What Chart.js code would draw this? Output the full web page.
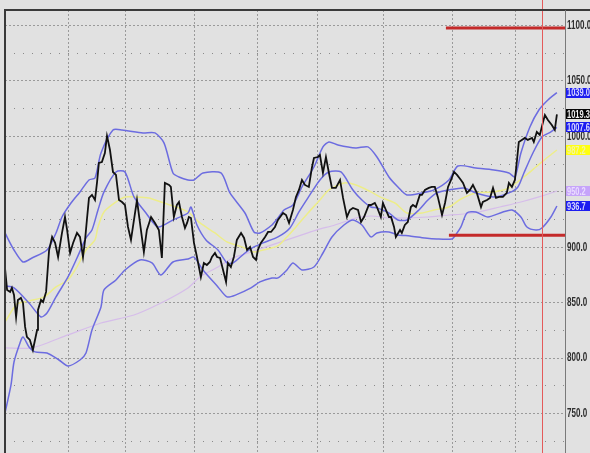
<!DOCTYPE html>
<html><head><meta charset="utf-8">
<script src="https://cdn.jsdelivr.net/npm/chart.js@4.4.0/dist/chart.umd.min.js"></script>
<style>html,body{margin:0;padding:0;background:#e1e1e1;overflow:hidden}
#wrap{width:590px;height:453px;position:relative}</style>
</head><body><div id="wrap"><canvas id="c" width="590" height="453"></canvas></div>
<script>
// ---- data (x = trading day index, y = price) ----
const priceDays = [0,0.7,1.7,2.3,3,3.7,4.3,5.3,6,6.7,7.3,8.3,9.3,10.7,11,12,12.7,13.7,14.7,15.7,16.7,17.7,19,20,20.7,21.7,22.7,24,25,26,26.7,27.3,28,29,30,
30.7,31.3,32.3,33.3,34,34.3,35,36,37,38,39,40,41,42,43,44,45,46.3,47.3,48.7,50,51.3,52.3,53.3,54.7,55.3,56.3,57.3,58,59,60,
60.7,61.3,62,63,64,65.3,66.3,67.3,68.3,69,70,70.7,71.7,72.7,73.7,74.3,75.3,76.3,77.3,78.7,79.7,80.7,81.7,82.7,83.7,84.3,85.3,86.7,87.7,88.7,90,91,
92.7,93.7,94.7,96,97,98,99,100,101.3,102.3,103,104.3,105,106,107,108,109,110.3,111.7,112.7,114,115,116,117.7,118.7,119.7,121.3,122,
123.3,124,125.3,126,127,128,128.7,129.7,130.3,131.7,132.3,133.3,134.3,135.3,136,137,138.3,139,140,141.3,142.3,143.3,144.3,145.7,146.7,147.7,148.7,149.7,150.7,152,
152.7,154,155,156,157.3,158.7,159.3,160.7,161.7,162.7,163.7,164.7,166,167.3,168,169,170,170.7,171.3,172.3,173.3,174.3,175.7,176.3,177.3,178.3,179.3,180,181,182.3,183.3,184];
const priceValues = [880.8,861.0,859.2,862.8,856.5,836.6,851.9,853.8,849.2,827.6,818.6,815.9,806.8,824.9,842.9,851.9,850.1,859.2,897.0,908.8,903.4,890.7,912.4,926.8,915.1,894.3,903.4,912.4,908.8,890.7,906.1,924.1,944.0,946.7,942.1,
958.4,975.5,976.4,984.5,999.9,996.3,987.2,967.4,964.7,942.1,940.3,937.6,917.8,906.1,924.1,942.1,921.4,895.2,915.1,926.8,921.4,915.1,889.8,957.5,955.7,953.9,926.8,937.6,940.3,926.8,916.9,
921.4,926.8,925.9,903.4,890.7,872.7,885.3,883.5,886.2,890.7,894.3,890.7,889.8,879.0,868.2,885.3,881.7,890.7,906.1,912.4,907.9,897.0,899.8,890.7,888.0,897.0,903.4,908.8,913.3,913.3,917.8,924.1,
930.4,928.6,921.4,933.1,944.9,951.2,960.2,955.7,953.9,971.0,980.0,980.9,982.7,966.5,980.9,966.5,953.0,953.0,960.2,944.0,926.8,933.1,934.9,933.1,922.3,926.8,937.6,937.6,
939.4,935.8,926.8,939.4,933.1,926.8,926.8,917.8,908.8,915.1,912.4,919.6,922.3,935.8,937.6,935.8,946.7,946.7,951.2,953.0,953.9,953.9,944.9,928.6,939.4,953.9,960.2,967.4,964.7,960.2,
957.5,948.5,951.2,955.7,948.5,935.8,940.3,942.1,944.0,953.0,944.0,944.9,944.9,948.5,957.5,953.9,960.2,978.2,994.5,996.3,998.1,996.3,998.1,994.5,1003.5,1000.8,1011.6,1018.8,1014.3,1009.8,1005.3,1019.3];

const upperDays = [0,3,6,9,14,17,19,22,25,28,30,32,36,39,46,50,53,56,58,61,63,66,72,75,80,83,85,89,91,93,96,99,103,106,108,111,117,121,124,128,131,134,139,143,148,151,157,163,168,170,172,175,178,181,184];
const upperValues = [912.4,897.0,886.2,889.8,897.0,912.4,926.8,939.4,949.4,960.2,962.0,984.5,1005.3,1005.3,1002.6,1002.6,993.6,966.5,962.9,960.2,960.2,966.5,966.5,948.5,930.4,913.3,912.4,919.6,925.9,933.1,937.6,953.9,971.9,990.0,994.5,991.8,989.1,990.0,980.9,962.9,953.9,946.7,948.5,951.2,960.2,972.8,971.0,969.2,966.5,962.9,984.5,1008.0,1023.3,1032.3,1039.0];

const middleDays = [0,3,8,12,14,17,21,24,27,29,31,33,37,40,43,47,51,56,61,62,64,67,71,74,76,80,83,86,91,95,98,101,105,108,112,116,119,122,124,128,131,134,138,141,144,148,153,157,163,168,171,173,176,179,182,184];
const middleValues = [864.6,862.8,849.2,836.6,840.2,854.7,872.7,889.8,907.9,915.1,933.1,949.4,967.4,967.4,944.9,930.4,917.8,924.1,930.4,935.8,919.6,906.1,897.0,885.3,885.3,894.3,899.8,903.4,908.8,916.9,931.3,944.0,960.2,967.4,967.4,951.2,942.1,935.8,935.0,930.4,924.1,924.1,933.1,942.1,948.5,951.2,953.0,948.5,944.9,948.5,953.9,966.5,984.5,999.0,1003.5,1007.6];

const lowerDays = [0,2,3,5,6,8,10,14,18,21,25,27,29,32,33,37,40,45,49,52,56,61,63,66,71,74,77,82,85,89,91,94,96,99,103,106,109,113,116,119,122,124,128,131,135,140,144,149,150,152,154,157,161,166,169,172,174,177,179,182,184];
const lowerValues = [750.0,775.3,796.0,813.2,818.6,809.6,805.1,804.1,797.8,792.4,797.8,804.1,824.9,845.6,861.0,870.0,879.0,888.0,885.3,874.5,886.2,888.9,890.7,879.0,863.7,854.7,856.5,862.8,868.2,871.8,871.8,879.0,885.3,879.0,881.7,894.3,908.8,919.6,924.1,919.6,908.8,912.4,913.3,910.6,909.7,907.9,907.0,907.0,909.7,917.8,930.4,931.3,926.8,931.3,933.1,926.8,917.8,915.1,916.9,926.8,936.7];

const maDays = [0,4,8,13,17,21,24,27,30,31,33,37,40,43,48,52,57,61,65,70,74,79,83,86,91,94,97,101,105,108,113,117,122,125,130,134,139,143,148,152,157,163,168,173,177,181,184];
const maValues = [832.1,848.3,851.0,854.7,863.7,870.0,881.7,897.0,906.1,917.8,931.3,940.3,944.9,944.9,944.0,940.3,935.8,931.3,921.4,912.4,904.3,899.8,895.2,897.0,900.7,908.8,917.8,930.4,942.1,951.2,957.5,955.7,949.4,944.9,939.4,930.4,930.4,933.1,935.8,943.0,948.5,949.4,953.0,962.9,971.9,980.9,987.2];

const longMaDays = [0,9,21,32,43,52,61,65,71,76,82,87,91,97,104,110,117,122,128,134,141,148,153,158,165,172,178,184];
const longMaValues = [808.7,808.7,820.4,831.2,838.4,849.2,862.8,872.7,881.7,889.8,895.2,899.8,903.4,908.8,915.1,919.6,925.9,927.7,925.9,925.9,926.8,928.6,929.5,931.3,935.8,940.3,944.9,950.2];

const resistanceLevel = 1097.2, resistanceFrom = 147;
const supportLevel = 910.3, supportFrom = 148;
const markerDay = 179;
const monthStartDays = [21, 40, 63, 84, 104, 126, 149, 170];
const tickValues = [750, 800, 850, 900, 950, 1000, 1050, 1100];
const minorTickValues = [725, 775, 825, 875, 925, 975, 1025, 1075];
const xMin = 0, xMax = 186.7, yMin = 713.9, yMax = 1113.5;

// ---- helpers ----
const pts = (d, v) => d.map((x, i) => ({x, y: v[i]}));
const last = a => a[a.length - 1];
const FONT = '"Liberation Sans",Arial,sans-serif';

function condensedText(ctx, text, x, y, size, squeeze) {
  ctx.save();
  ctx.translate(x, y);
  ctx.scale(squeeze, 1);
  ctx.font = 'bold ' + size + 'px ' + FONT;
  ctx.textBaseline = 'middle'; ctx.textAlign = 'left';
  ctx.fillText(text, 0, 0);
  ctx.restore();
}

const gridPlugin = {
  id: 'grid',
  beforeDatasetsDraw(chart) {
    const {ctx, chartArea: a, scales: {x, y}} = chart;
    ctx.save();
    ctx.beginPath(); ctx.rect(a.left, a.top, a.right - a.left, a.bottom - a.top); ctx.clip();
    ctx.lineWidth = 1;
    ctx.strokeStyle = '#8a8a8a';
    ctx.setLineDash([1, 8]);
    minorTickValues.forEach(v => { const py = Math.round(y.getPixelForValue(v)) + 0.5;
      ctx.beginPath(); ctx.moveTo(a.left, py); ctx.lineTo(a.right, py); ctx.stroke(); });
    ctx.strokeStyle = '#9a9a9a';
    ctx.setLineDash([2, 2]);
    tickValues.forEach(v => { const py = Math.round(y.getPixelForValue(v)) + 0.5;
      ctx.beginPath(); ctx.moveTo(a.left, py); ctx.lineTo(a.right, py); ctx.stroke(); });
    monthStartDays.forEach(d => { const px = Math.round(x.getPixelForValue(d)) + 0.5;
      ctx.beginPath(); ctx.moveTo(px, a.top); ctx.lineTo(px, a.bottom); ctx.stroke(); });
    ctx.restore();
  },
  afterDatasetsDraw(chart) {
    const {ctx, chartArea: a, scales: {x}} = chart;
    ctx.save();
    const px = Math.round(x.getPixelForValue(markerDay)) + 0.5;
    ctx.strokeStyle = '#e45a5a'; ctx.lineWidth = 1;
    ctx.beginPath(); ctx.moveTo(px, 0); ctx.lineTo(px, chart.height); ctx.stroke();
    // frame
    ctx.strokeStyle = '#3a3a3a'; ctx.lineWidth = 2;
    ctx.beginPath(); ctx.moveTo(a.left, a.bottom); ctx.lineTo(a.left, a.top); ctx.lineTo(chart.width, a.top); ctx.stroke();
    ctx.strokeStyle = '#7a7a7a'; ctx.lineWidth = 1;
    ctx.beginPath(); ctx.moveTo(a.right + 0.5, a.top); ctx.lineTo(a.right + 0.5, a.bottom); ctx.stroke();
    ctx.restore();
  },
  afterDraw(chart) {
    const {ctx, chartArea: a, scales: {y}} = chart;
    // axis tick labels
    ctx.save();
    ctx.fillStyle = '#2e2e2e';
    tickValues.forEach(v => condensedText(ctx, v.toFixed(1), a.right + 2, y.getPixelForValue(v) + 0.5, 12, 0.67));
    ctx.restore();
    // last-value boxes
    const boxes = [
      {v: last(upperValues), bg: '#1c1cf0', fg: '#d8d8ff'},
      {v: last(priceValues), bg: '#050505', fg: '#f0f0f0'},
      {v: last(middleValues), bg: '#1c1cf0', fg: '#d8d8ff'},
      {v: last(maValues), bg: '#ffff10', fg: '#f4f4a0'},
      {v: last(longMaValues), bg: '#c6a4fa', fg: '#eadcff'},
      {v: last(lowerValues), bg: '#1c1cf0', fg: '#d8d8ff'}
    ];
    ctx.save();
    boxes.forEach(b => {
      const py = y.getPixelForValue(b.v);
      ctx.fillStyle = b.bg; ctx.fillRect(a.right + 1, Math.round(py - 5), chart.width - a.right, 10);
      ctx.fillStyle = b.fg; condensedText(ctx, b.v.toFixed(1), a.right + 2, py + 0.5, 11, 0.68);
    });
    ctx.restore();
  }
};

const line = (label, data, color, width, tension) => ({label, data, borderColor: color, borderWidth: width, tension, pointRadius: 0, fill: false});

new Chart(document.getElementById('c'), {
  type: 'line',
  data: { datasets: [
    line('Price', pts(priceDays, priceValues), '#111111', 1.8, 0),
    line('Resistance', [{x: resistanceFrom, y: resistanceLevel}, {x: xMax, y: resistanceLevel}], '#c42a2a', 3, 0),
    line('Support', [{x: supportFrom, y: supportLevel}, {x: xMax, y: supportLevel}], '#c42a2a', 3, 0),
    line('Upper band', pts(upperDays, upperValues), '#6c6ce0', 1.5, 0.25),
    line('Middle band', pts(middleDays, middleValues), '#6c6ce0', 1.5, 0.25),
    line('Lower band', pts(lowerDays, lowerValues), '#6c6ce0', 1.5, 0.25),
    line('MA', pts(maDays, maValues), '#eded8a', 1.5, 0.25),
    line('Long MA', pts(longMaDays, longMaValues), '#d6bdea', 1.2, 0.25)
  ]},
  options: {
    responsive: false, animation: false,
    layout: {padding: {left: 5, top: 10, right: 0, bottom: 0}},
    plugins: {legend: {display: false}, tooltip: {enabled: false}},
    scales: {
      x: {type: 'linear', min: xMin, max: xMax, display: false},
      y: {type: 'linear', position: 'right', min: yMin, max: yMax,
        afterBuildTicks: s => { s.ticks = tickValues.map(v => ({value: v})); },
        afterFit: s => { s.width = 25; s.paddingTop = 0; s.paddingBottom = 0; },
        grid: {display: false, drawTicks: false}, border: {display: false},
        ticks: {display: false}
      }
    }
  },
  plugins: [gridPlugin]
});
</script></body></html>
